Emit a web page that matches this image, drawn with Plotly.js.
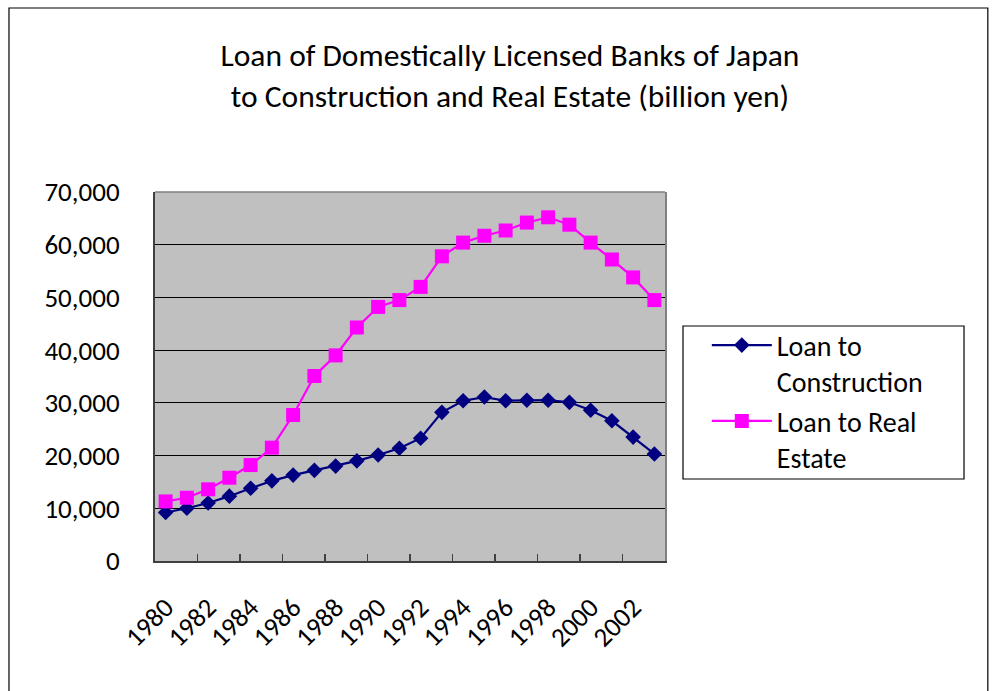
<!DOCTYPE html>
<html>
<head>
<meta charset="utf-8">
<script src="https://cdn.plot.ly/plotly-3.0.1.min.js"></script>
<style>
html,body{margin:0;padding:0;background:#fff;}
#chart{width:997px;height:691px;}
</style>
</head>
<body>
<div id="chart"></div>
<script>
const years = [1980,1981,1982,1983,1984,1985,1986,1987,1988,1989,1990,1991,1992,1993,1994,1995,1996,1997,1998,1999,2000,2001,2002,2003];
const loanConstruction = [9200,10000,11000,12300,13800,15200,16300,17200,18000,19000,20100,21400,23300,28200,30400,31100,30400,30500,30500,30100,28600,26600,23500,20300];
const loanRealEstate = [11300,12000,13600,15800,18200,21500,27700,35100,39000,44300,48200,49500,52000,57800,60400,61700,62700,64200,65200,63800,60400,57200,53800,49500];
const seriesNames = ["Loan to<br>Construction", "Loan to Real<br>Estate"];
const tickYears = years.filter(y => y % 2 === 0);
const tickLabels = tickYears.map(String);
const boundaryTicks = years.filter(y => y % 2 === 1).map(y => y + 0.5).concat([years[0] - 0.5]);
const yTicks = [0,10000,20000,30000,40000,50000,60000,70000];

const FONT = "Carlito, Lato, 'Liberation Sans', sans-serif";

const traces = [
  {
    x: years, y: loanConstruction, name: seriesNames[0], type: "scatter", mode: "lines+markers",
    line: {color: "#000080", width: 2.2},
    marker: {symbol: "diamond", size: 12, color: "#000080"}
  },
  {
    x: years, y: loanRealEstate, name: seriesNames[1], type: "scatter", mode: "lines+markers",
    line: {color: "#FF00FF", width: 2.2},
    marker: {symbol: "square", size: 14, color: "#FF00FF"}
  }
];

const layout = {
  width: 997, height: 691,
  paper_bgcolor: "#ffffff",
  plot_bgcolor: "#C0C0C0",
  margin: {l: 155, r: 332, t: 192, b: 130},
  font: {family: FONT, color: "#000", size: 27},
  title: {
    text: "Loan of Domestically Licensed Banks of Japan<br>to Construction and Real Estate (billion yen)",
    font: {family: FONT, size: 31.5, color: "#000"},
    xref: "container", yref: "container", x: 0.5115, y: 0.905, xanchor: "center", yanchor: "top"
  },
  xaxis: {
    range: [years[0] - 0.5, years[years.length - 1] + 0.5],
    tickvals: tickYears, ticktext: tickLabels, tickangle: -45,
    ticks: "", showgrid: false, zeroline: false,
    showline: true, linecolor: "#404040", linewidth: 2, mirror: false,
    ticklabelstandoff: 18,
    tickfont: {family: FONT, size: 27, color: "#000"}
  },
  xaxis2: {
    overlaying: "x", anchor: "y", side: "bottom",
    range: [years[0] - 0.5, years[years.length - 1] + 0.5],
    tickvals: boundaryTicks, showticklabels: false,
    ticks: "inside", ticklen: 7, tickcolor: "#404040", tickwidth: 1.5,
    showgrid: false, zeroline: false, showline: false
  },
  yaxis: {
    range: [0, 70000], tickvals: yTicks, tickformat: ",",
    showgrid: true, gridcolor: "#000", gridwidth: 1.2,
    zeroline: false, showline: true, linecolor: "#404040", linewidth: 2,
    ticks: "", ticklabelstandoff: 28,
    tickfont: {family: FONT, size: 27, color: "#000"}
  },
  yaxis2: {overlaying: "y", side: "right", range: [0, 70000], showticklabels: false, showgrid: false, zeroline: false, showline: true, linecolor: "#808080", linewidth: 1.5},
  legend: {
    x: 1.082, xanchor: "left", y: 0.652, yanchor: "top",
    borderwidth: 0, bgcolor: "rgba(0,0,0,0)",
    font: {family: FONT, size: 28, color: "#000"},
    itemwidth: 60, tracegroupgap: 2, valign: "top"
  },
  shapes: [
    {type: "rect", xref: "paper", yref: "paper", x0: -0.2863, x1: 1.633, y0: -0.4, y1: 1.4986, line: {color: "#000", width: 1.2}, fillcolor: "rgba(0,0,0,0)", layer: "below"},
    {type: "rect", xref: "paper", yref: "paper", x0: 1.0353, x1: 1.5863, y0: 0.2222, y1: 0.6369, line: {color: "#000", width: 1.2}, fillcolor: "rgba(0,0,0,0)"},
    {type: "line", xref: "paper", yref: "paper", x0: 0, x1: 1, y0: 1, y1: 1, line: {color: "#808080", width: 1.5}}
  ]
};

traces.push({x: [years[0]], y: [null], xaxis: "x2", yaxis: "y2", showlegend: false, hoverinfo: "skip", type: "scatter", mode: "markers"});

Plotly.newPlot("chart", traces, layout, {displayModeBar: false, staticPlot: true});
</script>
</body>
</html>
